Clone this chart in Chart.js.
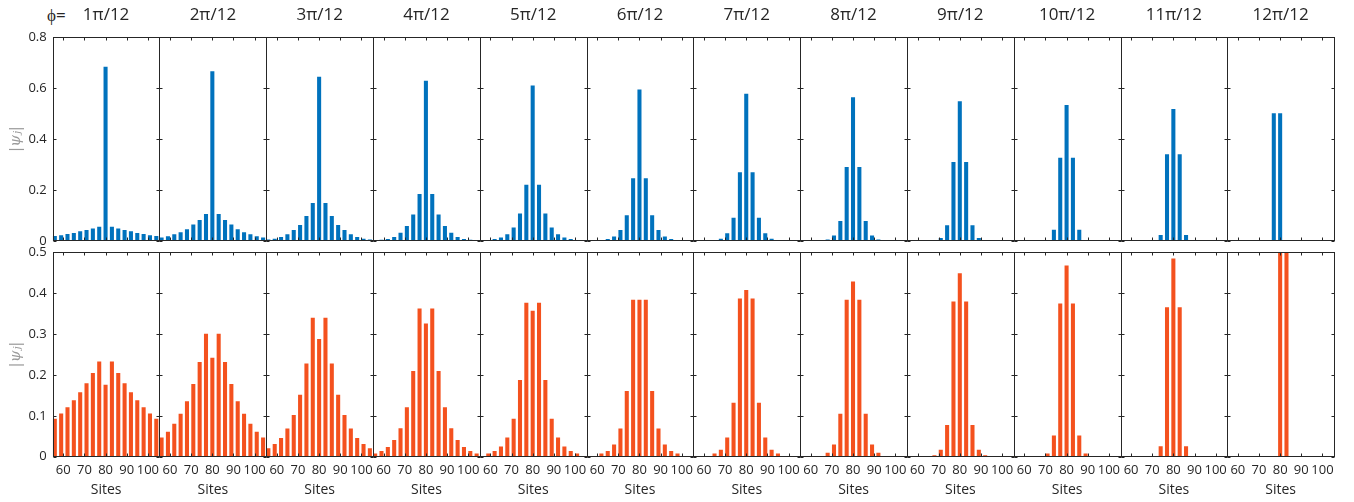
<!DOCTYPE html>
<html>
<head>
<meta charset="utf-8">
<script src="https://cdn.jsdelivr.net/npm/chart.js@4"></script>
<style>
  body { margin: 0; background: #fff; }
  #wrap { position: relative; width: 1354px; height: 502px; overflow: hidden; }
  #wrap canvas { position: absolute; }
  #phi { position: absolute; left: 47px; top: 5px; font: 17px 'Open Sans'; line-height: 20px; color: #262626; }
</style>
</head>
<body>
<div id="wrap"><div id="phi">ϕ=</div></div>
<script>
// sites shown as bars (every third site)
const sites = [56, 59, 62, 65, 68, 71, 74, 77, 80, 83, 86, 89, 92, 95, 98, 101, 104];
const xTicks = [60, 70, 80, 90, 100];
const topTicks = [0, 0.2, 0.4, 0.6, 0.8];
const bottomTicks = [0, 0.1, 0.2, 0.3, 0.4, 0.5];
const phiLabels = ['1π/12', '2π/12', '3π/12', '4π/12', '5π/12', '6π/12',
                   '7π/12', '8π/12', '9π/12', '10π/12', '11π/12', '12π/12'];

// top row |psi_j| (blue)
const top1  = [0.018, 0.021, 0.026, 0.030, 0.037, 0.042, 0.048, 0.055, 0.682, 0.055, 0.048, 0.042, 0.037, 0.030, 0.026, 0.021, 0.018];
const top2  = [0.012, 0.017, 0.025, 0.033, 0.045, 0.063, 0.081, 0.105, 0.664, 0.105, 0.081, 0.063, 0.045, 0.033, 0.025, 0.017, 0.012];
const top3  = [0.005, 0.008, 0.014, 0.025, 0.042, 0.061, 0.097, 0.148, 0.643, 0.148, 0.097, 0.061, 0.042, 0.025, 0.014, 0.008, 0.005];
const top4  = [0.001, 0.004, 0.007, 0.014, 0.031, 0.058, 0.103, 0.183, 0.627, 0.183, 0.103, 0.058, 0.031, 0.014, 0.007, 0.004, 0.001];
const top5  = [0.001, 0.002, 0.007, 0.012, 0.025, 0.052, 0.107, 0.219, 0.609, 0.219, 0.107, 0.052, 0.025, 0.012, 0.007, 0.002, 0.001];
const top6  = [0.001, 0.001, 0.003, 0.007, 0.016, 0.042, 0.100, 0.245, 0.593, 0.245, 0.100, 0.042, 0.016, 0.007, 0.003, 0.001, 0.001];
const top7  = [0, 0, 0.001, 0.002, 0.008, 0.029, 0.090, 0.268, 0.576, 0.268, 0.090, 0.029, 0.008, 0.002, 0.001, 0, 0];
const top8  = [0, 0, 0, 0.001, 0.005, 0.020, 0.077, 0.289, 0.562, 0.289, 0.077, 0.020, 0.005, 0.001, 0, 0, 0];
const top9  = [0, 0, 0, 0, 0.002, 0.010, 0.060, 0.309, 0.547, 0.309, 0.060, 0.010, 0.002, 0, 0, 0, 0];
const top10 = [0, 0, 0, 0, 0, 0.003, 0.043, 0.325, 0.532, 0.325, 0.043, 0.003, 0, 0, 0, 0, 0];
const top11 = [0, 0, 0, 0, 0, 0, 0.022, 0.339, 0.516, 0.339, 0.022, 0, 0, 0, 0, 0, 0];
const top12 = [0, 0, 0, 0, 0, 0, 0, 0.500, 0.500, 0, 0, 0, 0, 0, 0, 0, 0];

// bottom row |psi_j| (orange)
const bot1  = [0.092, 0.105, 0.120, 0.137, 0.157, 0.179, 0.204, 0.232, 0.175, 0.232, 0.204, 0.179, 0.157, 0.137, 0.120, 0.105, 0.092];
const bot2  = [0.046, 0.060, 0.080, 0.104, 0.135, 0.177, 0.231, 0.300, 0.241, 0.300, 0.231, 0.177, 0.135, 0.104, 0.080, 0.060, 0.046];
const bot3  = [0.020, 0.030, 0.045, 0.068, 0.101, 0.151, 0.227, 0.339, 0.287, 0.339, 0.227, 0.151, 0.101, 0.068, 0.045, 0.030, 0.020];
const bot4  = [0.007, 0.013, 0.023, 0.040, 0.069, 0.120, 0.209, 0.362, 0.325, 0.362, 0.209, 0.120, 0.069, 0.040, 0.023, 0.013, 0.007];
const bot5  = [0.001, 0.007, 0.013, 0.024, 0.046, 0.092, 0.187, 0.376, 0.356, 0.376, 0.187, 0.092, 0.046, 0.024, 0.013, 0.007, 0.001];
const bot6  = [0, 0.001, 0.007, 0.013, 0.029, 0.068, 0.160, 0.383, 0.383, 0.383, 0.160, 0.068, 0.029, 0.013, 0.007, 0.001, 0];
const bot7  = [0, 0, 0.001, 0.007, 0.016, 0.046, 0.131, 0.386, 0.407, 0.386, 0.131, 0.046, 0.016, 0.007, 0.001, 0, 0];
const bot8  = [0, 0, 0, 0.001, 0.009, 0.029, 0.104, 0.383, 0.428, 0.383, 0.104, 0.029, 0.009, 0.001, 0, 0, 0];
const bot9  = [0, 0, 0, 0, 0.003, 0.016, 0.077, 0.379, 0.448, 0.379, 0.077, 0.016, 0.003, 0, 0, 0, 0];
const bot10 = [0, 0, 0, 0, 0, 0.007, 0.051, 0.374, 0.467, 0.374, 0.051, 0.007, 0, 0, 0, 0, 0];
const bot11 = [0, 0, 0, 0, 0, 0, 0.025, 0.365, 0.484, 0.365, 0.025, 0, 0, 0, 0, 0, 0];
const bot12 = [0, 0, 0, 0, 0, 0, 0, 0, 0.500, 0.500, 0, 0, 0, 0, 0, 0, 0];

const topRow = [top1, top2, top3, top4, top5, top6, top7, top8, top9, top10, top11, top12];
const bottomRow = [bot1, bot2, bot3, bot4, bot5, bot6, bot7, bot8, bot9, bot10, bot11, bot12];

Chart.defaults.font.family = "'Open Sans', sans-serif";
Chart.defaults.color = '#262626';

const INK = '#262626';
const P0 = 52.7, PW = 106.78;   // first panel left edge, panel width

// height = canvas height; plot top/bottom are page coordinates of the axes box
const rows = [
    { values: topRow, color: '#0072bd', top: 0, height: 256, plotTop: 37, plotBottom: 241, ticks: topTicks, max: 0.8 },
    { values: bottomRow, color: '#f4511e', top: 230, height: 272, plotTop: 252.3, plotBottom: 456.7, ticks: bottomTicks, max: 0.5 }
];

// box round each panel plus inward tick marks on all four sides
const framePlugin = {
    id: 'frame',
    afterDraw(chart) {
        const { ctx, chartArea: a, scales: { x, y } } = chart;
        const L = Math.round(a.left) + 0.5, R = Math.round(a.right) + 0.5;
        const T = Math.round(a.top) + 0.5, B = Math.round(a.bottom) - 0.5;
        ctx.save();
        ctx.strokeStyle = INK;
        ctx.lineWidth = 1;
        ctx.strokeRect(L, T, R - L, B - T);
        ctx.beginPath();
        x.ticks.forEach(t => {
            const px = Math.round(x.getPixelForValue(t.value)) + 0.5;
            ctx.moveTo(px, B); ctx.lineTo(px, B - 3);
            ctx.moveTo(px, T); ctx.lineTo(px, T + 3);
        });
        y.ticks.forEach(t => {
            const py = Math.round(y.getPixelForValue(t.value)) + 0.5;
            ctx.moveTo(L, py); ctx.lineTo(L + 3, py);
            ctx.moveTo(R, py); ctx.lineTo(R - 3, py);
        });
        ctx.stroke();
        ctx.restore();
    }
};

const wrap = document.getElementById('wrap');

rows.forEach((row, r) => {
    row.values.forEach((vals, c) => {
        const left = P0 + c * PW;
        const cl = Math.round(left) - 53;
        const yw = left - cl;
        const cw = Math.ceil(yw + PW + 10);
        const xAxisH = row.height - (row.plotBottom - row.top);

        const canvas = document.createElement('canvas');
        canvas.width = cw;
        canvas.height = row.height;
        canvas.style.left = cl + 'px';
        canvas.style.top = row.top + 'px';
        wrap.appendChild(canvas);

        new Chart(canvas, {
            type: 'bar',
            data: {
                datasets: [{
                    data: sites.map((s, i) => ({ x: s, y: vals[i] })),
                    backgroundColor: row.color,
                    borderWidth: 0,
                    barThickness: 3.4
                }]
            },
            options: {
                responsive: false,
                animation: false,
                events: [],
                layout: {
                    padding: { top: r === 0 ? 0 : row.plotTop - row.top, right: cw - yw - PW, bottom: 0, left: 0 }
                },
                plugins: {
                    legend: { display: false },
                    tooltip: { enabled: false },
                    title: {
                        display: r === 0,
                        text: phiLabels[c],
                        fullSize: false,
                        color: INK,
                        font: { size: 17, weight: 'normal' },
                        padding: { top: 5, bottom: 11.6 }
                    }
                },
                scales: {
                    x: {
                        type: 'linear',
                        offset: false,
                        min: 55,
                        max: 105.5,
                        afterBuildTicks: s => { s.ticks = xTicks.map(v => ({ value: v })); },
                        afterFit: s => { s.height = xAxisH; },
                        grid: { display: false, drawTicks: false, offset: false },
                        border: { display: false },
                        ticks: { display: r === 1, padding: 6, autoSkip: false, maxRotation: 0, color: INK, font: { size: 13 } },
                        title: { display: r === 1, text: 'Sites', color: INK, font: { size: 14 }, padding: { top: 0, bottom: 3.6 } }
                    },
                    y: {
                        min: 0,
                        max: row.max,
                        afterBuildTicks: s => { s.ticks = row.ticks.map(v => ({ value: v })); },
                        afterFit: s => { s.width = yw; },
                        grid: { display: false, drawTicks: false },
                        border: { display: false },
                        ticks: { display: c === 0, padding: 6, color: INK, font: { size: 13 }, callback: v => String(v) },
                        title: {
                            display: c === 0,
                            text: '|ψⱼ|',
                            color: '#9a9a9a',
                            font: { size: 15, style: 'italic', family: "'DejaVu Serif', serif" },
                            padding: { top: 7, bottom: 0 }
                        }
                    }
                }
            },
            plugins: [framePlugin]
        });
    });
});
</script>
</body>
</html>
